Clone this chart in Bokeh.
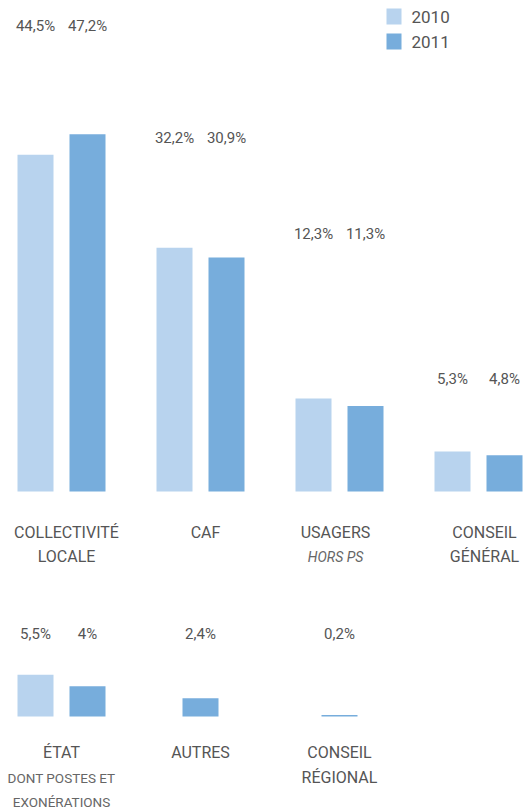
from bokeh.plotting import figure
from bokeh.models import Range1d, ColumnDataSource
from bokeh.embed import file_html
from bokeh.resources import INLINE
from bokeh.core.properties import value

# ---------------- data ----------------
series = ["2010", "2011"]
top_lines = [["COLLECTIVITÉ", "LOCALE"], ["CAF"], ["USAGERS"], ["CONSEIL", "GÉNÉRAL"]]
top_sub = [[], [], ["HORS PS"], []]
top_2010 = [44.5, 32.2, 12.3, 5.3]
top_2011 = [47.2, 30.9, 11.3, 4.8]

bottom_lines = [["ÉTAT"], ["AUTRES"], ["CONSEIL", "RÉGIONAL"]]
bottom_sub = [["DONT POSTES ET", "EXONÉRATIONS"], [], []]
bottom_2010 = [5.5, None, None]
bottom_2011 = [4.0, 2.4, 0.2]

# ---------------- layout / style ----------------
C2010 = "#B8D3EE"
C2011 = "#77ADDC"
TXT = "#555555"
SUBTXT = "#666666"
FONT = "Roboto"

W, H = 529, 808
GAP = 139.0            # px between group centres
X0 = -61 / GAP         # group 0 centred at x = 61 px
OFF = 26 / GAP         # bar offset from group centre
BAR_W = 36 / GAP
SCALE = 7.57           # px per percentage point
BASE1 = 491            # y (px from top) of first-row baseline
BASE2 = 716            # y of second-row baseline
ROW2 = -(BASE2 - BASE1) / SCALE   # second-row baseline in value units

top_gap_px = [108, 110, 164, 72]   # value labels above tallest bar
bot_label_px = 83                  # value labels above baseline (row 2)
cat_dx = [5, 5, -4, 6]             # small horizontal nudges of first-row names


def fmt(v):
    return ("%g" % v).replace(".", ",") + "%"


def fx(px):
    return X0 + px / GAP


def fy(py):
    return (BASE1 - py) / SCALE


p = figure(width=W, height=H, output_backend="svg", toolbar_location=None,
           tools="", min_border=0,
           x_range=Range1d(X0, X0 + W / GAP),
           y_range=Range1d(fy(H), fy(0)))
p.axis.visible = False
p.grid.visible = False
p.outline_line_color = None
p.background_fill_color = "white"
p.border_fill_color = "white"


def draw_row(v10, v11, base, label_y, label_off):
    x10, t10, x11, t11 = [], [], [], []
    lx, ly, lo, lt = [], [], [], []
    for i, (a, b) in enumerate(zip(v10, v11)):
        both = a is not None and b is not None
        if a is not None:
            x = i - OFF if both else i
            x10.append(x); t10.append(base + a)
            lx.append(x); lt.append(fmt(a))
            ly.append(base + label_y(i)); lo.append(label_off(i))
        if b is not None:
            x = i + OFF if both else i
            x11.append(x); t11.append(base + b)
            lx.append(x); lt.append(fmt(b))
            ly.append(base + label_y(i)); lo.append(label_off(i))
    p.vbar(x=x10, top=t10, bottom=base, width=BAR_W, color=C2010, line_color=None)
    p.vbar(x=x11, top=t11, bottom=base, width=BAR_W, color=C2011, line_color=None)
    src = ColumnDataSource(dict(x=lx, y=ly, yo=lo, t=lt))
    p.text(x="x", y="y", y_offset="yo", text="t", source=src,
           text_align="center", text_baseline="middle",
           text_font=value(FONT), text_font_size="15px", text_color=TXT)


def draw_cats(lines, base, offsets, dx=None, size="16px", style="normal", color=TXT):
    xs, ys, xo, yo, ts = [], [], [], [], []
    for i, ls in enumerate(lines):
        for j, t in enumerate(ls):
            xs.append(i); ys.append(base)
            xo.append(dx[i] if dx else 0); yo.append(offsets[j]); ts.append(t)
    src = ColumnDataSource(dict(x=xs, y=ys, xo=xo, yo=yo, t=ts))
    p.text(x="x", y="y", x_offset="xo", y_offset="yo", text="t", source=src,
           text_align="center", text_baseline="middle",
           text_font=value(FONT), text_font_size=size,
           text_font_style=style, text_color=color)


# ---------------- first row ----------------
draw_row(top_2010, top_2011, 0,
         lambda i: max(top_2010[i], top_2011[i]),
         lambda i: -top_gap_px[i])
draw_cats(top_lines, 0, [41, 65], dx=cat_dx)
draw_cats(top_sub, 0, [65], dx=cat_dx, size="14px", style="italic", color=SUBTXT)

# ---------------- second row ----------------
draw_row(bottom_2010, bottom_2011, ROW2,
         lambda i: 0, lambda i: -bot_label_px)
draw_cats(bottom_lines, ROW2, [36, 61])
draw_cats(bottom_sub, ROW2, [61, 85], size="13.5px", color=SUBTXT)

# ---------------- legend ----------------
p.rect(x=[fx(393.5)] * 2, y=[fy(16), fy(41)], width=15, height=16,
       width_units="screen", height_units="screen",
       color=[C2010, C2011], line_color=None)
p.text(x=[fx(411)] * 2, y=[fy(16), fy(41)], text=series,
       text_align="left", text_baseline="middle",
       text_font=value(FONT), text_font_size="17px", text_color=TXT)

open("out.html", "w").write(file_html(p, INLINE))
